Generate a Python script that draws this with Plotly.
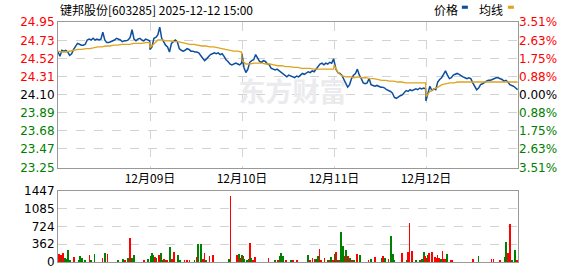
import plotly.graph_objects as go

# ---------------- data ----------------
title_text = "键邦股份[603285] 2025-12-12 15:00"
day_labels = ["12月09日", "12月10日", "12月11日", "12月12日"]
minutes_per_day = 240
n_days = 5

# price, 48 samples per trading day (about every 5 minutes)
price_day1 = [24.60, 24.55, 24.62, 24.61, 24.62, 24.60, 24.56, 24.58, 24.63, 24.66, 24.70, 24.69,
              24.68, 24.68, 24.69, 24.74, 24.75, 24.74, 24.76, 24.74, 24.75, 24.74, 24.75, 24.83,
              24.74, 24.71, 24.71, 24.72, 24.73, 24.74, 24.76, 24.75, 24.74, 24.72, 24.73, 24.73,
              24.74, 24.77, 24.86, 24.75, 24.73, 24.75, 24.76, 24.74, 24.73, 24.75, 24.74, 24.73]
price_day2 = [24.63, 24.66, 24.76, 24.77, 24.80, 24.89, 24.76, 24.72, 24.68, 24.66, 24.60, 24.70,
              24.72, 24.74, 24.72, 24.64, 24.62, 24.61, 24.62, 24.64, 24.63, 24.61, 24.61, 24.60,
              24.60, 24.59, 24.56, 24.53, 24.50, 24.52, 24.55, 24.57, 24.58, 24.59, 24.58, 24.59,
              24.57, 24.58, 24.55, 24.51, 24.49, 24.46, 24.45, 24.46, 24.47, 24.46, 24.45, 24.47]
price_day3 = [24.58, 24.42, 24.36, 24.40, 24.48, 24.50, 24.51, 24.57, 24.52, 24.49, 24.48, 24.50,
              24.49, 24.46, 24.45, 24.41, 24.40, 24.39, 24.40, 24.38, 24.37, 24.34, 24.32, 24.31,
              24.33, 24.32, 24.31, 24.30, 24.32, 24.31, 24.33, 24.35, 24.34, 24.36, 24.37, 24.36,
              24.38, 24.37, 24.40, 24.44, 24.46, 24.47, 24.45, 24.47, 24.46, 24.48, 24.47, 24.52]
price_day4 = [24.50, 24.40, 24.36, 24.35, 24.33, 24.28, 24.25, 24.19, 24.22, 24.29, 24.33, 24.35,
              24.40, 24.33, 24.29, 24.24, 24.23, 24.24, 24.29, 24.22, 24.21, 24.20, 24.21, 24.20,
              24.19, 24.19, 24.18, 24.16, 24.15, 24.14, 24.12, 24.07, 24.06, 24.08, 24.09, 24.10,
              24.13, 24.15, 24.14, 24.16, 24.15, 24.16, 24.17, 24.16, 24.18, 24.17, 24.18, 24.17]
price_day5 = [24.03, 24.12, 24.20, 24.15, 24.17, 24.16, 24.25, 24.28, 24.30, 24.34, 24.38, 24.33,
              24.29, 24.30, 24.33, 24.34, 24.35, 24.34, 24.32, 24.31, 24.30, 24.29, 24.30, 24.29,
              24.24, 24.19, 24.16, 24.18, 24.22, 24.23, 24.25, 24.26, 24.27, 24.27, 24.28, 24.29,
              24.30, 24.30, 24.29, 24.28, 24.26, 24.27, 24.25, 24.22, 24.21, 24.20, 24.18, 24.16]

# intraday average price, 24 samples per day (about every 10 minutes)
avg_day1 = [24.61, 24.60, 24.60, 24.61, 24.62, 24.63, 24.63, 24.64, 24.64, 24.65, 24.66, 24.66,
            24.67, 24.67, 24.68, 24.68, 24.69, 24.69, 24.69, 24.70, 24.70, 24.70, 24.71, 24.71]
avg_day2 = [24.65, 24.70, 24.74, 24.74, 24.73, 24.73, 24.72, 24.72, 24.71, 24.70, 24.69, 24.69,
            24.68, 24.67, 24.67, 24.66, 24.66, 24.65, 24.64, 24.63, 24.62, 24.61, 24.61, 24.60]
avg_day3 = [24.50, 24.46, 24.46, 24.47, 24.47, 24.47, 24.46, 24.46, 24.45, 24.44, 24.44, 24.43,
            24.43, 24.42, 24.42, 24.41, 24.41, 24.41, 24.40, 24.40, 24.40, 24.40, 24.40, 24.40]
avg_day4 = [24.45, 24.36, 24.32, 24.31, 24.31, 24.30, 24.31, 24.30, 24.30, 24.29, 24.29, 24.28,
            24.27, 24.27, 24.26, 24.26, 24.25, 24.25, 24.24, 24.24, 24.24, 24.24, 24.24, 24.24]
avg_day5 = [24.08, 24.14, 24.17, 24.19, 24.22, 24.23, 24.24, 24.24, 24.25, 24.25, 24.25, 24.25,
            24.25, 24.25, 24.25, 24.25, 24.25, 24.25, 24.25, 24.25, 24.25, 24.25, 24.25, 24.25]

# volume bars (minute index over the 5 days, volume, 1 = up/red, 0 = down/green)
vol_minute = [3, 7, 10, 14, 18, 23, 27, 31, 42, 54, 57, 62, 70, 82, 86, 95, 116, 123, 129, 157,
              170, 175, 182, 188, 192, 199, 224, 234, 242, 245, 249, 253, 257, 264, 269, 273, 277,
              281, 285, 292, 297, 301, 303, 314, 319, 330, 336, 343, 356, 363, 366, 373, 379, 382,
              386, 395, 405, 447, 450, 466, 472, 475, 477, 481, 484, 486, 492, 497, 501, 504, 508,
              514, 549, 566, 573, 579, 582, 588, 594, 608, 614, 623, 653, 657, 664, 669, 673, 677,
              679, 682, 685, 695, 705, 710, 712, 717, 721, 723, 726, 731, 736, 738, 744, 749, 751,
              756, 762, 766, 772, 779, 788, 810, 816, 827, 844, 847, 853, 862, 869, 873, 877, 898,
              910, 914, 917, 924, 933, 944, 949, 951, 955, 958, 962, 965, 968, 975, 984, 986, 990,
              994, 999, 1003, 1005, 1010, 1014, 1025, 1029, 1082, 1097, 1131, 1136, 1153, 1165,
              1169, 1173, 1177, 1180, 1184, 1191, 1193, 1198]
vol_value = [165, 150, 85, 185, 85, 65, 237, 40, 105, 40, 130, 85, 40, 150, 40, 165, 85, 185, 170, 40,
             65, 40, 85, 480, 85, 150, 40, 65, 120, 185, 150, 105, 85, 150, 185, 40, 65,
             40, 40, 300, 65, 40, 200, 150, 40, 40, 40, 40, 40, 105, 360, 360, 65, 185,
             40, 120, 150, 65, 1335, 150, 165, 65, 85, 150, 120, 65, 40, 65, 395, 85, 40,
             105, 85, 40, 40, 130, 185, 130, 40, 40, 25, 40, 150, 40, 85, 65, 50, 85,
             120, 265, 40, 85, 40, 40, 105, 40, 40, 170, 205, 40, 40, 610, 315, 130, 237,
             120, 85, 40, 40, 170, 150, 40, 65, 105, 85, 130, 85, 50, 525, 170, 40, 185,
             40, 200, 795, 215, 40, 40, 50, 65, 205, 120, 85, 150, 185, 205, 105, 85, 150,
             85, 65, 215, 65, 50, 170, 40, 40, 65, 130, 65, 50, 40, 105,
             400, 185, 120, 765, 40, 65, 250, 40]
vol_up = [1, 1, 0, 1, 0, 0, 0, 0, 1, 0, 0, 0, 0, 1, 0, 0, 1, 0, 1, 0,
          0, 1, 0, 1, 0, 0, 1, 0, 0, 0, 0, 1, 0, 1, 0, 0, 1,
          0, 1, 0, 1, 1, 1, 0, 0, 1, 1, 1, 0, 1, 0, 0, 1, 1,
          0, 1, 1, 0, 1, 1, 0, 1, 1, 0, 1, 0, 0, 0, 1, 0, 1,
          1, 1, 0, 1, 0, 0, 0, 1, 0, 1, 1, 0, 1, 1, 1, 0, 1,
          0, 1, 1, 1, 0, 1, 0, 1, 1, 0, 1, 0, 1, 0, 0, 1, 0,
          1, 0, 1, 0, 1, 0, 1, 0, 1, 0, 1, 0, 1, 0, 0, 0, 1,
          0, 1, 1, 1, 0, 0, 1, 0, 0, 1, 1, 0, 1, 1, 1, 1, 1,
          1, 0, 1, 1, 1, 0, 1, 1, 1, 0, 1, 1, 1, 0,
          0, 1, 1, 1, 0, 1, 0, 1]

# axis labels
price_ticks = [24.95, 24.73, 24.52, 24.31, 24.10, 23.89, 23.68, 23.47, 23.25]
pct_labels = ["3.51%", "2.63%", "1.75%", "0.88%", "0.00%", "0.88%", "1.75%", "2.63%", "3.51%"]
prev_close = 24.10
vol_ticks = [0, 362, 724, 1085, 1447]

# ---------------- build ----------------
RED = "#ff0000"
GREEN = "#008000"
BLUE = "#0b4f9e"
GOLD = "#e0a31c"

price_days = [price_day1, price_day2, price_day3, price_day4, price_day5]
avg_days = [avg_day1, avg_day2, avg_day3, avg_day4, avg_day5]

px, py = [], []
for d, vals in enumerate(price_days):
    n = len(vals)
    for k, v in enumerate(vals):
        px.append(d * minutes_per_day + k * (minutes_per_day - 1) / (n - 1))
        py.append(v)
ax, ay = [], []
for d, vals in enumerate(avg_days):
    n = len(vals)
    for k, v in enumerate(vals):
        ax.append(d * minutes_per_day + k * (minutes_per_day - 1) / (n - 1))
        ay.append(v)


def tick_color(v):
    if abs(v - prev_close) < 1e-9:
        return "#000000"
    return RED if v > prev_close else GREEN


left_text = [f'<span style="color:{tick_color(v)}">{v:.2f}</span>' for v in price_ticks]
right_text = [f'<span style="color:{tick_color(v)}">{t}</span>' for v, t in zip(price_ticks, pct_labels)]

total = minutes_per_day * n_days

fig = go.Figure()
# watermark drawn first so that it stays under the lines
fig.add_trace(go.Scatter(x=[total * 0.51], y=[24.095], mode="text", text=["<b>东方财富</b>"],
                         textfont=dict(family="Noto Sans CJK SC", size=27, color="#ebebee"),
                         xaxis="x", yaxis="y", showlegend=False, hoverinfo="skip"))
fig.add_trace(go.Scatter(x=px, y=py, mode="lines", line=dict(color=BLUE, width=1.5),
                         xaxis="x", yaxis="y", showlegend=False, hoverinfo="skip"))
fig.add_trace(go.Scatter(x=ax, y=ay, mode="lines", line=dict(color=GOLD, width=1.3),
                         xaxis="x", yaxis="y2", showlegend=False, hoverinfo="skip"))
fig.add_trace(go.Bar(x=vol_minute, y=vol_value,
                     marker=dict(color=[RED if u else GREEN for u in vol_up], line=dict(width=0)),
                     width=2.2, xaxis="x2", yaxis="y3", showlegend=False, hoverinfo="skip"))

grid = dict(showgrid=True, gridcolor="#d3d3d3", griddash="dash", gridwidth=1)
border = dict(showline=True, mirror=True, linecolor="#999999", linewidth=1, zeroline=False)
tfont = dict(family="DejaVu Sans", size=12, color="#000000")

fig.update_layout(
    width=578, height=276,
    margin=dict(l=58, r=60, t=22, b=7),
    paper_bgcolor="white", plot_bgcolor="white",
    bargap=0,
    xaxis=dict(domain=[0, 1], range=[0, total], anchor="y",
               tickvals=[minutes_per_day * (i + 1) for i in range(len(day_labels))],
               ticktext=day_labels, ticks="",
               tickfont=dict(family="Noto Sans CJK SC", size=12, color="#000000"),
               **grid, **border),
    yaxis=dict(domain=[0.3927, 1], range=[23.25, 24.95], anchor="x",
               tickvals=price_ticks, ticktext=left_text, ticks="", tickfont=tfont,
               **grid, **border),
    yaxis2=dict(overlaying="y", side="right", range=[23.25, 24.95], anchor="x",
                tickvals=price_ticks, ticktext=right_text, ticks="", tickfont=tfont,
                showgrid=False, zeroline=False, showline=False),
    xaxis2=dict(domain=[0, 1], range=[0, total], anchor="y3", showticklabels=False,
                showgrid=False, ticks="", **border),
    yaxis3=dict(domain=[0, 0.2955], range=[0, 1447], anchor="x2",
                tickvals=vol_ticks, ticktext=[str(v) for v in vol_ticks], ticks="", tickfont=tfont,
                **grid, **border),
)

# title and legend
fig.add_annotation(text=title_text, xref="paper", yref="paper", x=0, y=1.054,
                   xanchor="left", yanchor="middle", showarrow=False,
                   font=dict(family="Noto Sans CJK SC", size=12, color="#000000"))
fig.add_annotation(text="价格", xref="paper", yref="paper", x=0.813, y=1.054,
                   xanchor="left", yanchor="middle", showarrow=False,
                   font=dict(family="Noto Sans CJK SC", size=12, color="#000000"))
fig.add_annotation(text="均线", xref="paper", yref="paper", x=0.911, y=1.054,
                   xanchor="left", yanchor="middle", showarrow=False,
                   font=dict(family="Noto Sans CJK SC", size=12, color="#000000"))
fig.add_shape(type="rect", xref="paper", yref="paper", x0=0.878, x1=0.891, y0=1.055, y1=1.068,
              fillcolor=BLUE, line=dict(width=0))
fig.add_shape(type="rect", xref="paper", yref="paper", x0=0.978, x1=0.991, y0=1.055, y1=1.068,
              fillcolor=GOLD, line=dict(width=0))

fig.write_html("out.html")
